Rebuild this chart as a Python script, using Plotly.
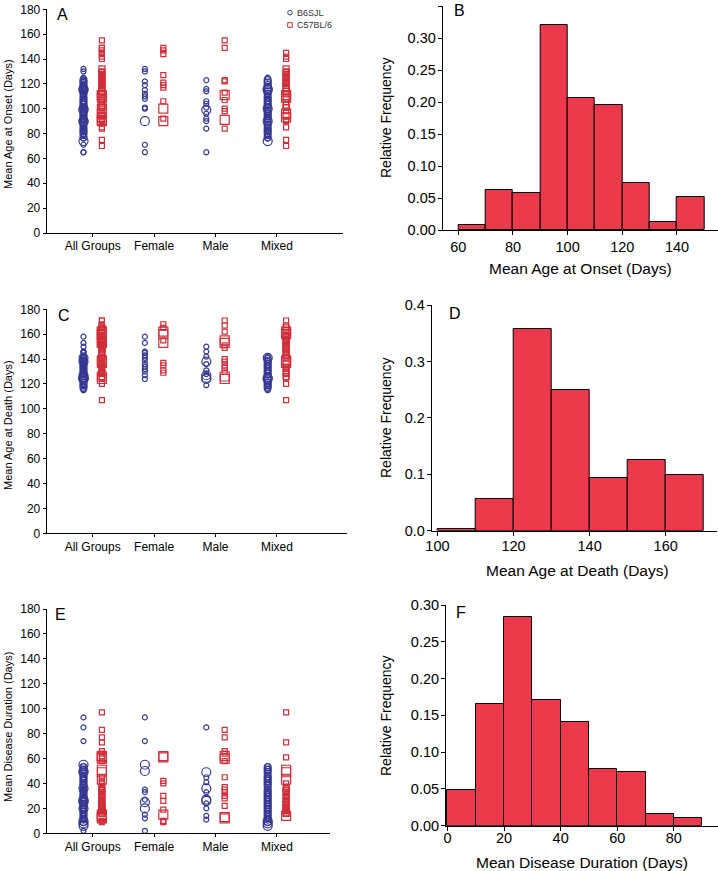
import plotly.graph_objects as go

W, H = 718, 871

categories = ["All Groups", "Female", "Male", "Mixed"]
strain_names = ["B6SJL", "C57BL/6"]

# ---------- Panel A: mean age at onset (days) ----------
onset_female_b6 = [132, 130, 122, 119, 115, 112, 110, 108, 101, 100, 71, 65]
onset_female_b6_big = [90]
onset_female_c57 = [149, 147, 144, 127, 121, 119, 117, 106, 92]
onset_female_c57_big = [100, 90]
onset_male_b6 = [123, 116, 114, 106, 104, 101, 96, 92, 90, 84, 65]
onset_male_b6_big = [99]
onset_male_c57 = [155, 149, 123, 122, 113, 107, 100, 98, 84]
onset_male_c57_big = [111, 91]
onset_mixed_b6 = [125, 113, 111, 110, 108, 106, 104, 102, 99, 97, 95, 93, 91, 88, 86, 85, 83, 81, 79, 78, 76]
onset_mixed_b6_mid = [123, 121, 119, 117, 114, 112, 109, 107, 105, 103, 101, 98, 96, 94, 92, 89, 87, 84, 82, 80, 77]
onset_mixed_b6_big = [116, 115, 100, 90, 74]
onset_mixed_c57 = [145, 142, 140, 130, 128, 126, 124, 122, 120, 116, 105, 98, 91, 90, 85, 75, 70]
onset_mixed_c57_mid = [132, 129, 127, 125, 123, 121, 119, 117, 114, 112, 108, 103, 101, 94]
onset_mixed_c57_big = [111, 109, 96, 93]

# ---------- Panel C: mean age at death (days) ----------
death_female_b6 = [158, 153, 146, 145, 143, 141, 139, 136, 134, 132, 130, 127, 124]
death_female_b6_big = []
death_female_c57 = [168, 165, 155, 137, 135, 131, 129]
death_female_c57_big = [162, 160, 153]
death_male_b6 = [150, 146, 142, 136, 131, 128, 119]
death_male_b6_big = [138, 127, 125, 124]
death_male_c57 = [171, 167, 162, 151, 149, 140, 138, 135, 133, 130]
death_male_c57_big = [155, 153, 126, 124]
death_mixed_b6 = [142, 139, 137, 135, 133, 131, 129, 127, 122, 120, 118, 116, 115]
death_mixed_b6_mid = [140, 138, 136, 134, 132, 130, 128, 126, 123, 121, 119, 117]
death_mixed_b6_big = [141, 125, 124]
death_mixed_c57 = [171, 167, 158, 156, 154, 152, 150, 147, 145, 142, 134, 132, 130, 128, 125, 120, 107]
death_mixed_c57_mid = [165, 163, 159, 157, 155, 153, 151, 149, 148, 146, 144, 141, 136, 133, 129, 126]
death_mixed_c57_big = [162, 160, 139, 137]

# ---------- Panel E: mean disease duration (days) ----------
dur_female_b6 = [93, 74, 35, 33, 27, 15, 12, 2]
dur_female_b6_big = [55, 50, 25, 20]
dur_female_c57 = [42, 40, 30, 26, 19, 10, 9]
dur_female_c57_big = [62, 61, 15]
dur_male_b6 = [85, 45, 41, 33, 24, 20, 14, 11]
dur_male_b6_big = [49, 36, 27, 26]
dur_male_c57 = [83, 77, 66, 64, 58, 45, 37, 35, 33, 30, 28, 22]
dur_male_c57_big = [62, 60, 13, 12]
dur_mixed_b6 = [54, 52, 50, 47, 45, 43, 41, 39, 36, 34, 32, 30, 28, 26, 24, 22, 20, 18, 16, 14, 12]
dur_mixed_b6_mid = [53, 51, 49, 46, 44, 42, 40, 38, 35, 33, 31, 29, 27, 25, 23, 21, 19, 17, 15, 13, 11, 9]
dur_mixed_b6_big = [10, 8, 6]
dur_mixed_c57 = [97, 73, 61, 40, 37, 35, 32, 30, 29, 27, 25, 24, 21, 18]
dur_mixed_c57_mid = [36, 34, 31, 28, 26, 23, 22, 20, 19, 17, 16]
dur_mixed_c57_big = [51, 49, 43, 14]

# ---------- Histograms (relative frequency) ----------
onset_bin_edges = [60, 70, 80, 90, 100, 110, 120, 130, 140, 150]
onset_rel_freq = [0.008, 0.063, 0.058, 0.321, 0.207, 0.196, 0.074, 0.013, 0.051]
death_bin_edges = [100, 110, 120, 130, 140, 150, 160, 170]
death_rel_freq = [0.003, 0.057, 0.358, 0.249, 0.093, 0.125, 0.098]
dur_bin_edges = [0, 10, 20, 30, 40, 50, 60, 70, 80, 90]
dur_rel_freq = [0.048, 0.165, 0.284, 0.171, 0.141, 0.077, 0.073, 0.016, 0.010]

BLUE = "#363993"
RED = "#D02E3A"
BAR = "#EC3A4C"
FONT = "Liberation Sans, Arial, sans-serif"

fig = go.Figure()


def px_x(p):
    return p / W


def px_y(p):
    return 1 - p / H


def add_strain(ax, tiers, name, color, symbol, group):
    # tiers: list of (size, female, male, mixed)
    for size, fem, male, mixed in tiers:
        sets = [fem + male + mixed, fem, male, mixed]
        xs, ys = [], []
        for cat, vals in zip(categories, sets):
            xs += [cat] * len(vals)
            ys += vals
        fig.add_trace(go.Scatter(
            x=xs, y=ys, mode="markers", name=name, showlegend=False,
            offsetgroup=group,
            marker=dict(symbol=symbol, size=size, color=color,
                        line=dict(width=1.2, color=color)),
            xaxis="x" + ax, yaxis="y" + ax, cliponaxis=False))


panels = [
    ("",
     [(5, onset_female_b6, onset_male_b6, onset_mixed_b6),
      (7, [], [], onset_mixed_b6_mid),
      (9, onset_female_b6_big, onset_male_b6_big, onset_mixed_b6_big)],
     [(5, onset_female_c57, onset_male_c57, onset_mixed_c57),
      (6, [], [], onset_mixed_c57_mid),
      (9, onset_female_c57_big, onset_male_c57_big, onset_mixed_c57_big)]),
    ("3",
     [(5, death_female_b6, death_male_b6, death_mixed_b6),
      (7, [], [], death_mixed_b6_mid),
      (9, death_female_b6_big, death_male_b6_big, death_mixed_b6_big)],
     [(5, death_female_c57, death_male_c57, death_mixed_c57),
      (6, [], [], death_mixed_c57_mid),
      (9, death_female_c57_big, death_male_c57_big, death_mixed_c57_big)]),
    ("5",
     [(5, dur_female_b6, dur_male_b6, dur_mixed_b6),
      (7, [], [], dur_mixed_b6_mid),
      (9, dur_female_b6_big, dur_male_b6_big, dur_mixed_b6_big)],
     [(5, dur_female_c57, dur_male_c57, dur_mixed_c57),
      (6, [], [], dur_mixed_c57_mid),
      (9, dur_female_c57_big, dur_male_c57_big, dur_mixed_c57_big)]),
]
for ax, b6_tiers, c57_tiers in panels:
    add_strain(ax, b6_tiers, strain_names[0], BLUE, "circle-open", "b6")
    add_strain(ax, c57_tiers, strain_names[1], RED, "square-open", "c57")

for ax, edges, freq in (("2", onset_bin_edges, onset_rel_freq),
                        ("4", death_bin_edges, death_rel_freq),
                        ("6", dur_bin_edges, dur_rel_freq)):
    centers = [(a + b) / 2 for a, b in zip(edges[:-1], edges[1:])]
    widths = [b - a for a, b in zip(edges[:-1], edges[1:])]
    fig.add_trace(go.Bar(x=centers, y=freq, width=widths, showlegend=False,
                         marker=dict(color=BAR, line=dict(color="black", width=1)),
                         xaxis="x" + ax, yaxis="y" + ax))

base_axis = dict(showline=True, linecolor="black", linewidth=1, ticks="outside",
                 tickcolor="black", showgrid=False, zeroline=False, automargin=False)

layout = dict(width=W, height=H, autosize=False,
              margin=dict(l=0, r=0, t=0, b=0, pad=0, autoexpand=False),
              paper_bgcolor="white", plot_bgcolor="white",
              font=dict(family=FONT, color="black"),
              scattermode="group", scattergap=0.4, bargap=0, showlegend=False)

cat_step = 61.4
first_tick = 92.7
left_px = 46.7
for ax, top, bottom, right in (("", 9.3, 233.0, 343), ("3", 309.3, 533.3, 347), ("5", 609.0, 833.3, 330)):
    layout["xaxis" + ax] = dict(base_axis, domain=[px_x(left_px), px_x(right)], type="category",
                                categoryorder="array", categoryarray=categories,
                                range=[-(first_tick - left_px) / cat_step, (right - first_tick) / cat_step],
                                ticklen=3, tickfont=dict(size=12), ticklabelstandoff=-1,
                                anchor="y" + ax)
    layout["yaxis" + ax] = dict(base_axis, domain=[px_y(bottom), px_y(top)], range=[0, 180],
                                dtick=20, ticklen=3, tickfont=dict(size=12), anchor="x" + ax)

hist_geo = (("2", 442.7, 718, 6, 230, [54.3, 155], [60, 80, 100, 120, 140], [0, 0.35], 0.05, ".2f", 0),
            ("4", 431.7, 716.7, 305, 530.7, [98.5, 173.4], [100, 120, 140, 160], [0, 0.4], 0.1, ".1f", -2),
            ("6", 446, 718, 605, 825.7, [-0.5, 95.6], [0, 20, 40, 60, 80], [0, 0.30], 0.05, ".2f", -5))
for ax, l, r, t, b, xr, xt, yr, dt, fmt, so in hist_geo:
    layout["xaxis" + ax] = dict(base_axis, domain=[px_x(l), px_x(r)], range=xr, tickvals=xt,
                                ticklen=4, tickfont=dict(size=14.5), ticklabelstandoff=so,
                                anchor="y" + ax)
    layout["yaxis" + ax] = dict(base_axis, domain=[px_y(b), px_y(t)], range=yr, dtick=dt,
                                tickformat=fmt, ticklen=4, tickfont=dict(size=14.5),
                                ticklabelstandoff=-1, anchor="x" + ax)


def note(text, x, y, size, angle=0, xanchor="center", color="black"):
    return dict(text=text, x=px_x(x), y=px_y(y), xref="paper", yref="paper",
                xanchor=xanchor, yanchor="middle", textangle=angle, showarrow=False,
                font=dict(size=size, color=color), borderpad=0)


annotations = []
for letter, x, y in (("A", 56, 14), ("B", 453, 11), ("C", 57, 315), ("D", 448, 313),
                     ("E", 54, 614), ("F", 455, 612)):
    annotations.append(note(letter, x, y, 16, xanchor="left"))
for txt, y in (("Mean Age at Onset (Days)", 124), ("Mean Age at Death (Days)", 425),
               ("Mean Disease Duration (Days)", 727)):
    annotations.append(note(txt, 8, y, 11, angle=-90))
for y in (118, 418, 716):
    annotations.append(note("Relative Frequency", 386, y, 14, angle=-90))
for txt, x, y in (("Mean Age at Onset (Days)", 580, 268), ("Mean Age at Death (Days)", 577, 570),
                  ("Mean Disease Duration (Days)", 582, 862)):
    annotations.append(note(txt, x, y, 15.5))
# legend key text
annotations.append(note(strain_names[0], 296, 12.7, 9, xanchor="left", color="#333"))
annotations.append(note(strain_names[1], 296, 25, 9, xanchor="left", color="#333"))
layout["annotations"] = annotations

# legend key symbols (decoration)
r = 2.3
layout["shapes"] = [
    dict(type="circle", xref="paper", yref="paper", x0=px_x(290 - r), x1=px_x(290 + r),
         y0=px_y(12.7 + r), y1=px_y(12.7 - r), line=dict(color=BLUE, width=1)),
    dict(type="rect", xref="paper", yref="paper", x0=px_x(290 - r), x1=px_x(290 + r),
         y0=px_y(25 + r), y1=px_y(25 - r), line=dict(color=RED, width=1)),
]

fig.update_layout(layout)
fig.write_html("out.html", config={"displayModeBar": False},
               post_script="document.body.style.margin='0px';document.body.style.overflow='hidden';")
